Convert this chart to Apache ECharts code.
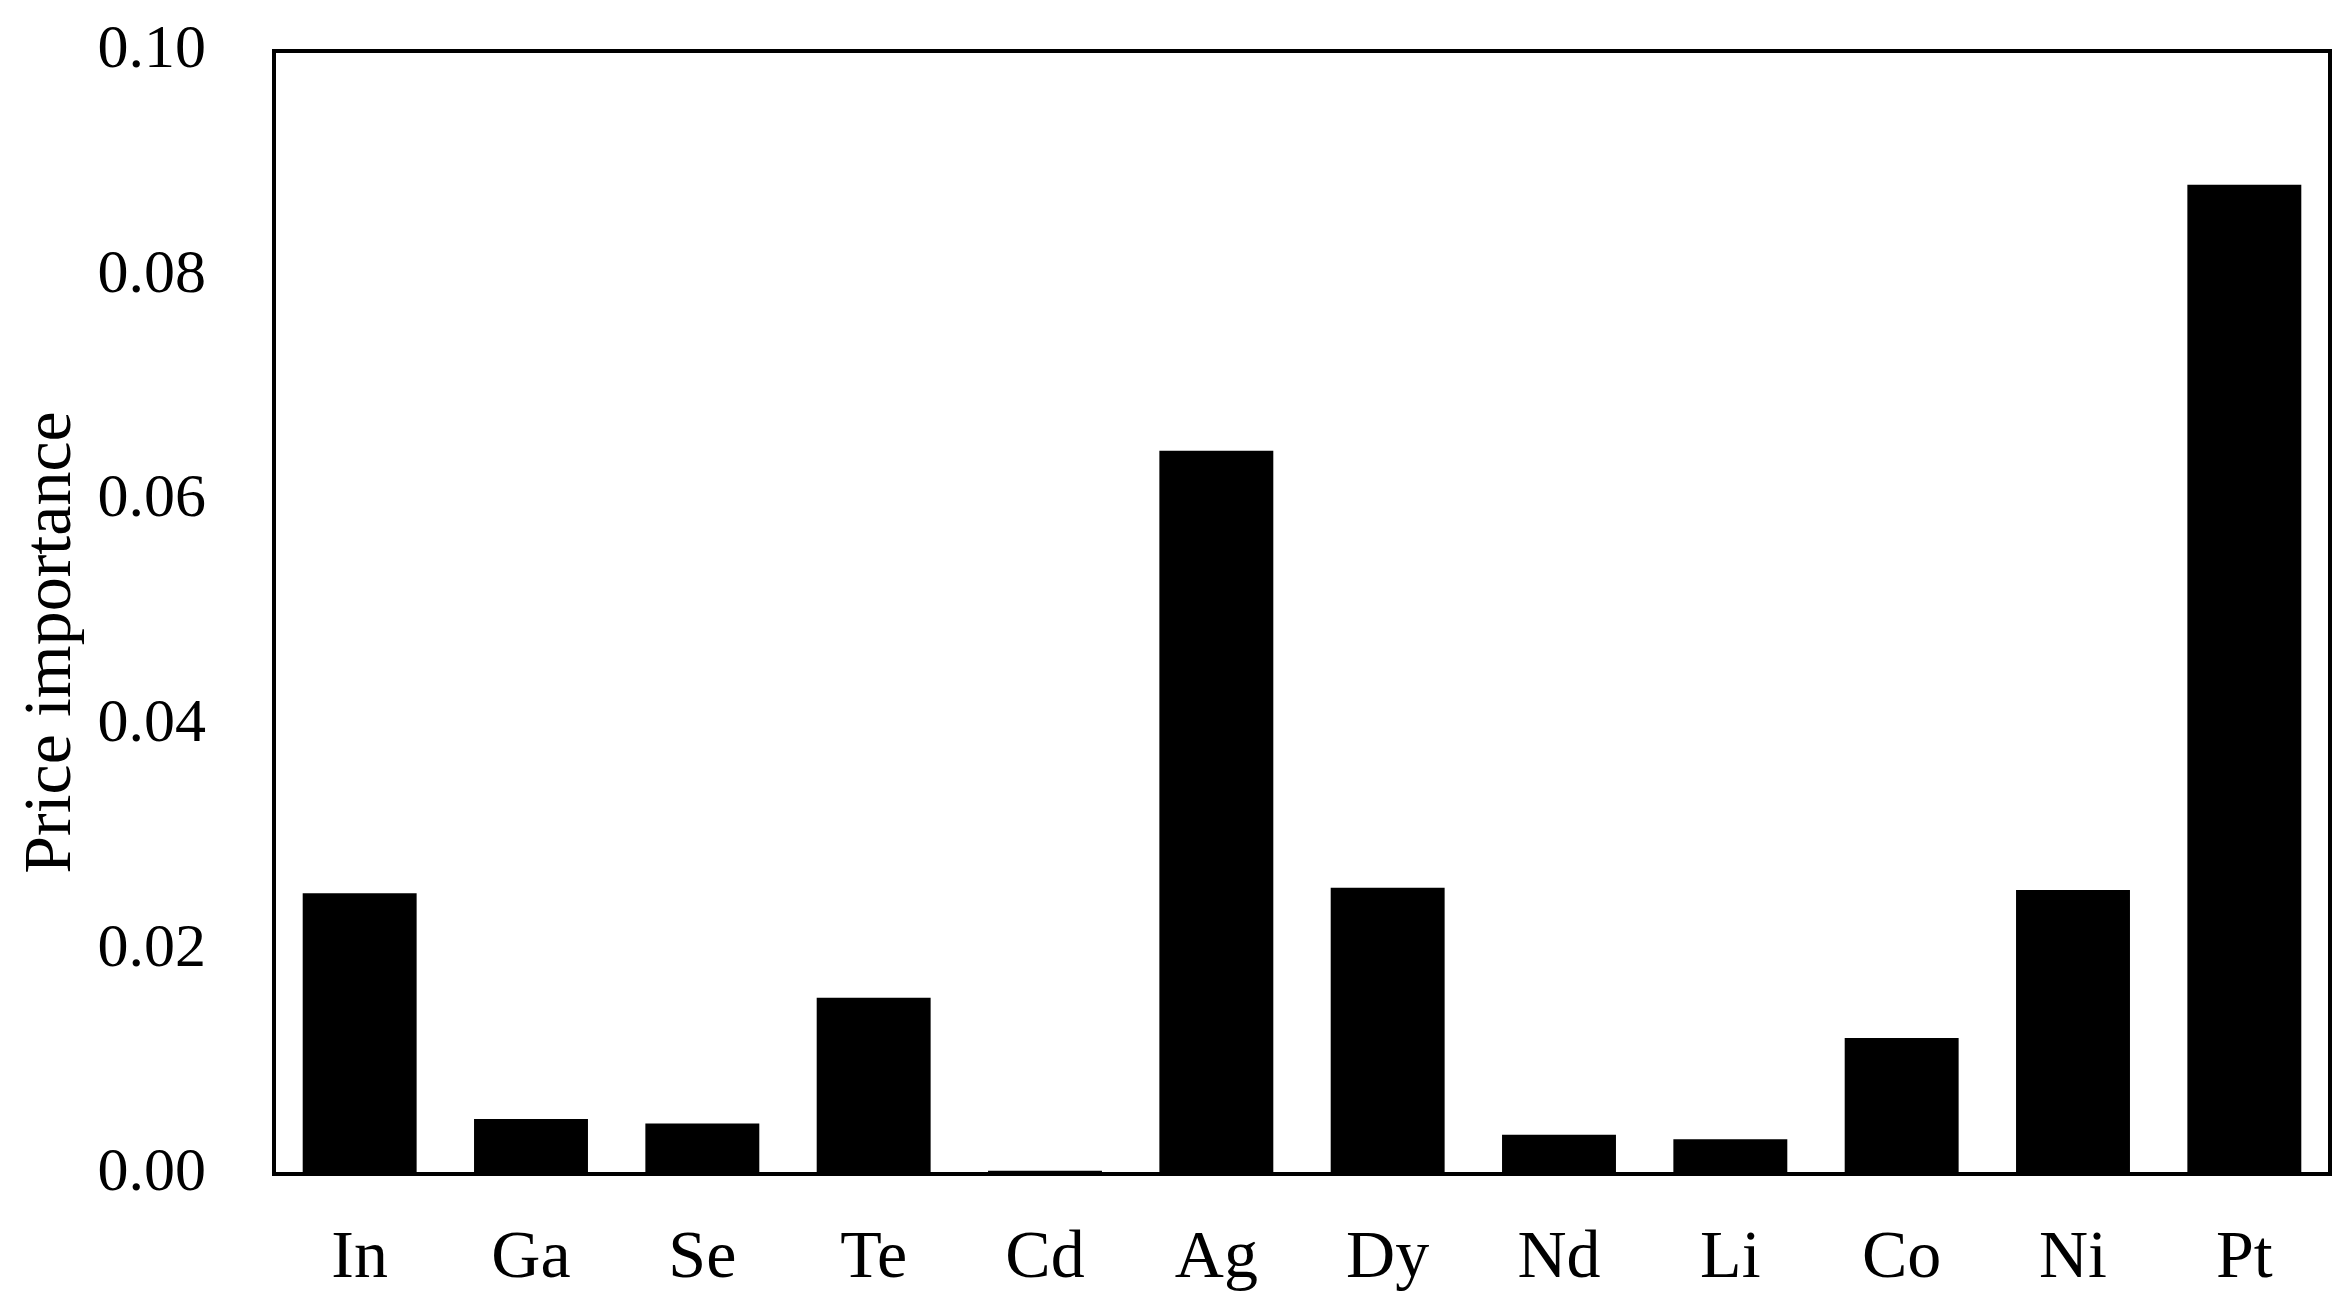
<!DOCTYPE html>
<html>
<head>
<meta charset="utf-8">
<script src="https://cdn.jsdelivr.net/npm/echarts@6/dist/echarts.min.js"></script>
<style>
  html, body { margin: 0; padding: 0; background: #fff; }
  #chart { width: 2348px; height: 1305px; }
</style>
</head>
<body>
<div id="chart"></div>
<script>
  // elements and their price importance
  var elements = ['In', 'Ga', 'Se', 'Te', 'Cd', 'Ag', 'Dy', 'Nd', 'Li', 'Co', 'Ni', 'Pt'];
  var importance = [0.0250, 0.0049, 0.0045, 0.0157, 0.0003, 0.0644, 0.0255, 0.0035, 0.0031, 0.0121, 0.0253, 0.0881];
  var yTicks = [0, 0.02, 0.04, 0.06, 0.08, 0.10];

  var font = 'Liberation Serif, Times New Roman, serif';
  var myChart = echarts.init(document.getElementById('chart'));
  var option = {
    animation: false,
    backgroundColor: '#fff',
    grid: {
      left: 274,
      right: 18,
      top: 51,
      bottom: 131,
      show: true,
      borderColor: '#000',
      borderWidth: 4
    },
    xAxis: {
      type: 'category',
      data: elements,
      axisLine: { show: true, lineStyle: { color: '#000', width: 4 } },
      axisTick: { show: false },
      axisLabel: {
        color: '#000',
        fontFamily: font,
        fontSize: 68,
        margin: 51
      }
    },
    yAxis: {
      type: 'value',
      min: yTicks[0],
      max: yTicks[yTicks.length - 1],
      interval: 0.02,
      name: 'Price importance',
      nameLocation: 'middle',
      nameGap: 186,
      nameTextStyle: {
        color: '#000',
        fontFamily: font,
        fontSize: 68,
        padding: [0, 60, 0, 0]
      },
      axisLine: { show: true, lineStyle: { color: '#000', width: 4 } },
      axisTick: { show: false },
      splitLine: { show: false },
      axisLabel: {
        color: '#000',
        fontFamily: font,
        fontSize: 62,
        margin: 68,
        formatter: function (v) { return v.toFixed(2); }
      }
    },
    series: [{
      type: 'bar',
      data: importance,
      barWidth: '66.5%',
      itemStyle: { color: '#000' }
    }]
  };
  myChart.setOption(option);
</script>
</body>
</html>
